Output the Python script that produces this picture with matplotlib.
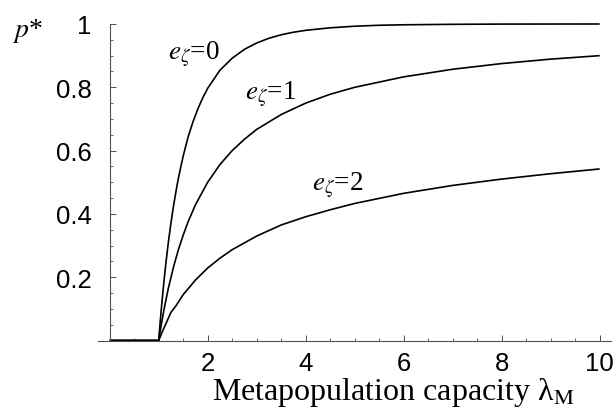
import numpy as np
import matplotlib
matplotlib.use("Agg")
import matplotlib.pyplot as plt
from matplotlib.ticker import MultipleLocator, FixedLocator

plt.rcParams['mathtext.fontset'] = 'stix'
plt.rcParams['font.family'] = ['Liberation Serif', 'DejaVu Serif']

# ---- data ----
lam_e0 = [0.0, 1.0, 1.02, 1.05, 1.1, 1.15, 1.2, 1.25, 1.3, 1.35, 1.4, 1.45, 1.5, 1.6, 1.7, 1.8,
          1.9, 2.0, 2.25, 2.5, 2.75, 3.0, 3.25, 3.5, 3.75, 4.0, 4.5, 5.0, 5.5, 6.0, 7.0, 8.0, 9.0, 10.0]
p_e0 = [0.0, 0.0, 0.039, 0.094, 0.176, 0.249, 0.314, 0.371, 0.423, 0.469, 0.511, 0.548, 0.583, 0.643,
        0.691, 0.732, 0.767, 0.797, 0.854, 0.892, 0.920, 0.940, 0.955, 0.966, 0.974, 0.980, 0.988,
        0.993, 0.996, 0.9975, 0.999, 0.9997, 0.9999, 1.0]

lam_e1 = [0.0, 1.0, 1.05, 1.1, 1.15, 1.2, 1.3, 1.4, 1.5, 1.6, 1.75, 2.0, 2.25, 2.5, 2.75, 3.0,
          3.5, 4.0, 4.5, 5.0, 6.0, 7.0, 8.0, 9.0, 10.0]
p_e1 = [0.0, 0.0, 0.048, 0.091, 0.130, 0.167, 0.231, 0.286, 0.333, 0.375, 0.429, 0.500, 0.556,
        0.600, 0.636, 0.667, 0.714, 0.750, 0.778, 0.800, 0.833, 0.857, 0.875, 0.889, 0.900]

lam_e2 = [0.0, 1.0, 1.05, 1.1, 1.15, 1.25, 1.35, 1.5, 1.75, 2.0, 2.25, 2.5, 3.0, 3.5, 4.0, 4.5,
          5.0, 6.0, 7.0, 8.0, 9.0, 10.0]
p_e2 = [0.0, 0.0, 0.019, 0.037, 0.054, 0.089, 0.109, 0.145, 0.191, 0.229, 0.260, 0.287, 0.330,
        0.365, 0.391, 0.413, 0.433, 0.465, 0.490, 0.510, 0.527, 0.542]

curve_labels = [r'$e_{\zeta}$=0', r'$e_{\zeta}$=1', r'$e_{\zeta}$=2']
label_pos = [(1.19, 0.889), (2.76, 0.763), (4.12, 0.473)]

x_ticks = [2, 4, 6, 8, 10]
x_ticklabels = ['2', '4', '6', '8', '10']
y_ticks = [0.2, 0.4, 0.6, 0.8, 1.0]
y_ticklabels = ['0.2', '0.4', '0.6', '0.8', '1']

# ---- figure ----
W, H = 616, 410
fig = plt.figure(figsize=(W / 100, H / 100), dpi=100)
x0px, x_unit = 109.7, 49.0
y0px, y_unit = 341.5, 316.5
xmin, xmax = -0.24, 10.23
ymin, ymax = 0.0, 1.003
left = (x0px + xmin * x_unit) / W
width = (xmax - xmin) * x_unit / W
bottom = (H - y0px) / H
height = (ymax - ymin) * y_unit / H
ax = fig.add_axes([left, bottom, width, height])

for lam, p in [(lam_e0, p_e0), (lam_e1, p_e1), (lam_e2, p_e2)]:
    ax.plot(lam, p, color='black', lw=1.2, clip_on=False,
            solid_joinstyle='round', solid_capstyle='butt')

for txt, (lx, ly) in zip(curve_labels, label_pos):
    ax.text(lx, ly, txt, fontsize=19.5, ha='left', va='baseline')

ax.set_xlim(xmin, xmax)
ax.set_ylim(ymin, ymax)
ax.spines['left'].set_position(('data', 0))
ax.spines['bottom'].set_position(('data', 0))
ax.spines['top'].set_visible(False)
ax.spines['right'].set_visible(False)
for s in ('left', 'bottom'):
    ax.spines[s].set_color('#505050')
    ax.spines[s].set_linewidth(0.8)
ax.spines['left'].set_bounds(0, 1.0)

ax.xaxis.set_major_locator(FixedLocator(x_ticks))
ax.set_xticklabels(x_ticklabels)
ax.xaxis.set_minor_locator(MultipleLocator(0.5))
ax.yaxis.set_major_locator(FixedLocator(y_ticks))
ax.set_yticklabels(y_ticklabels)
ax.yaxis.set_minor_locator(MultipleLocator(0.05))

ax.tick_params(axis='both', which='major', direction='in', length=4, width=0.7, color='#505050')
ax.tick_params(axis='both', which='minor', direction='in', length=2, width=0.6, color='#505050')
ax.tick_params(axis='x', which='major', pad=7.5)
ax.tick_params(axis='y', which='major', pad=13.0)
for lab in ax.get_xticklabels() + ax.get_yticklabels():
    lab.set_fontfamily('Liberation Sans')
    lab.set_fontsize(18.5)

ax.patch.set_visible(False)

fig.text(393 / W, (H - 400) / H, 'Metapopulation capacity λ$_{\\mathrm{M}}$',
         fontsize=23, ha='center', va='baseline')
fig.text(12 / W, (H - 37) / H, r'$p$*', fontsize=20, ha='left', va='baseline')

fig.savefig('out.png', dpi=100)
